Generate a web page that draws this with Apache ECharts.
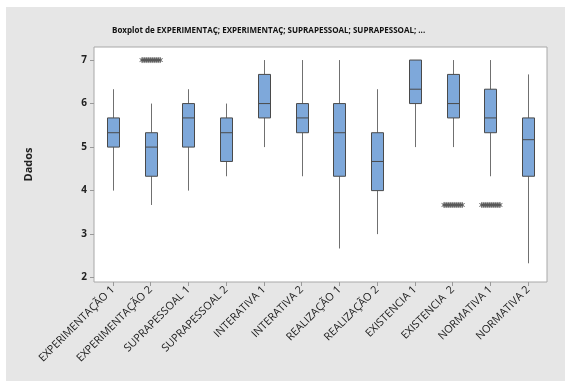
<!DOCTYPE html>
<html>
<head>
<meta charset="utf-8">
<script src="https://cdn.jsdelivr.net/npm/echarts@6/dist/echarts.min.js"></script>
<style>
html,body{margin:0;padding:0;background:#ffffff;}
#chart{width:565px;height:381px;}
</style>
</head>
<body>
<div id="chart"></div>
<script>
const categories = ['EXPERIMENTAÇÃO 1','EXPERIMENTAÇÃO 2','SUPRAPESSOAL 1','SUPRAPESSOAL 2','INTERATIVA 1','INTERATIVA 2','REALIZAÇÃO 1','REALIZAÇÃO 2','EXISTENCIA 1','EXISTENCIA  2','NORMATIVA 1','NORMATIVA 2'];
const whiskerLow  = [4.00, 3.67, 4.00, 4.33, 5.00, 4.33, 2.67, 3.00, 5.00, 5.00, 4.33, 2.33];
const q1          = [5.00, 4.33, 5.00, 4.67, 5.67, 5.33, 4.33, 4.00, 6.00, 5.67, 5.33, 4.33];
const median      = [5.33, 5.00, 5.67, 5.33, 6.00, 5.67, 5.33, 4.67, 6.33, 6.00, 5.67, 5.17];
const q3          = [5.67, 5.33, 6.00, 5.67, 6.67, 6.00, 6.00, 5.33, 7.00, 6.67, 6.33, 5.67];
const whiskerHigh = [6.33, 6.00, 6.33, 6.00, 7.00, 7.00, 7.00, 6.33, 7.00, 7.00, 7.00, 6.67];
const outliers = [[1, 7.00], [9, 3.67], [10, 3.67]];
const yTicks = [2, 3, 4, 5, 6, 7];
const titleText = 'Boxplot de EXPERIMENTAÇ; EXPERIMENTAÇ; SUPRAPESSOAL; SUPRAPESSOAL; ...';

const boxData = categories.map((c, i) => [i, whiskerLow[i], q1[i], median[i], q3[i], whiskerHigh[i]]);

const chart = echarts.init(document.getElementById('chart'), null, {renderer: 'canvas'});
const FONT = '"Open Sans", "Noto Sans", sans-serif';

chart.setOption({
  animation: false,
  backgroundColor: '#ffffff',
  graphic: [{
    type: 'rect', z: -10, silent: true,
    shape: {x: 6, y: 7, width: 565, height: 381},
    style: {fill: '#e6e6e6'}
  }],
  title: {
    text: titleText,
    left: 107, top: 22,
    textStyle: {fontFamily: FONT, fontSize: 8, fontWeight: 'bold', color: '#111'}
  },
  grid: {
    left: 94, top: 47, right: 18, bottom: 99,
    show: true, backgroundColor: '#ffffff', borderColor: '#a8a8a8', borderWidth: 1
  },
  xAxis: {
    type: 'category',
    data: categories,
    boundaryGap: true,
    axisLine: {show: false},
    axisTick: {show: true, alignWithLabel: true, length: 4, lineStyle: {color: '#999'}},
    axisLabel: {rotate: 45, interval: 0, margin: 6, fontFamily: FONT, fontSize: 10.8, color: '#1a1a1a'},
    splitLine: {show: false}
  },
  yAxis: {
    type: 'value',
    min: 1.9, max: 7.3,
    name: 'Dados', nameLocation: 'middle', nameGap: 60, nameRotate: 90,
    nameTextStyle: {fontFamily: FONT, fontSize: 11, fontWeight: 'bold', color: '#222'},
    axisLine: {show: false},
    axisTick: {show: true, length: 4, customValues: yTicks, lineStyle: {color: '#999'}},
    axisLabel: {customValues: yTicks, margin: 7, fontFamily: FONT, fontSize: 10, fontWeight: 'bold', color: '#222'},
    splitLine: {show: false}
  },
  series: [{
    type: 'custom',
    data: boxData,
    renderItem: function (params, api) {
      const x = api.value(0);
      const pLow = api.coord([x, api.value(1)]);
      const pQ1 = api.coord([x, api.value(2)]);
      const pMed = api.coord([x, api.value(3)]);
      const pQ3 = api.coord([x, api.value(4)]);
      const pHigh = api.coord([x, api.value(5)]);
      const half = 6;
      const cx = Math.round(pLow[0]) + 0.5;
      const wStyle = {stroke: '#707070', lineWidth: 1};
      const children = [
        {type: 'line', shape: {x1: cx, y1: pLow[1], x2: cx, y2: pQ1[1]}, style: wStyle},
        {type: 'line', shape: {x1: cx, y1: pQ3[1], x2: cx, y2: pHigh[1]}, style: wStyle},
        {type: 'rect', shape: {x: cx - half, y: pQ3[1], width: half * 2, height: Math.max(pQ1[1] - pQ3[1], 0.5)},
          style: {fill: '#7ea8da', stroke: '#4a4a4a', lineWidth: 1}},
        {type: 'line', shape: {x1: cx - half, y1: pMed[1], x2: cx + half, y2: pMed[1]}, style: {stroke: '#4a4a4a', lineWidth: 1}}
      ];
      return {type: 'group', children: children};
    }
  }, {
    type: 'custom',
    data: outliers,
    renderItem: function (params, api) {
      const p = api.coord([api.value(0), api.value(1)]);
      const children = [];
      for (let k = -9; k <= 9; k += 2) {
        const ax = p[0] + k + 0.5, ay = p[1];
        const st = {stroke: '#555', lineWidth: 1};
        children.push({type: 'line', shape: {x1: ax, y1: ay - 3, x2: ax, y2: ay + 3}, style: st});
        children.push({type: 'line', shape: {x1: ax - 2.5, y1: ay - 1.5, x2: ax + 2.5, y2: ay + 1.5}, style: st});
        children.push({type: 'line', shape: {x1: ax - 2.5, y1: ay + 1.5, x2: ax + 2.5, y2: ay - 1.5}, style: st});
      }
      return {type: 'group', children: children};
    }
  }]
});
</script>
</body>
</html>
